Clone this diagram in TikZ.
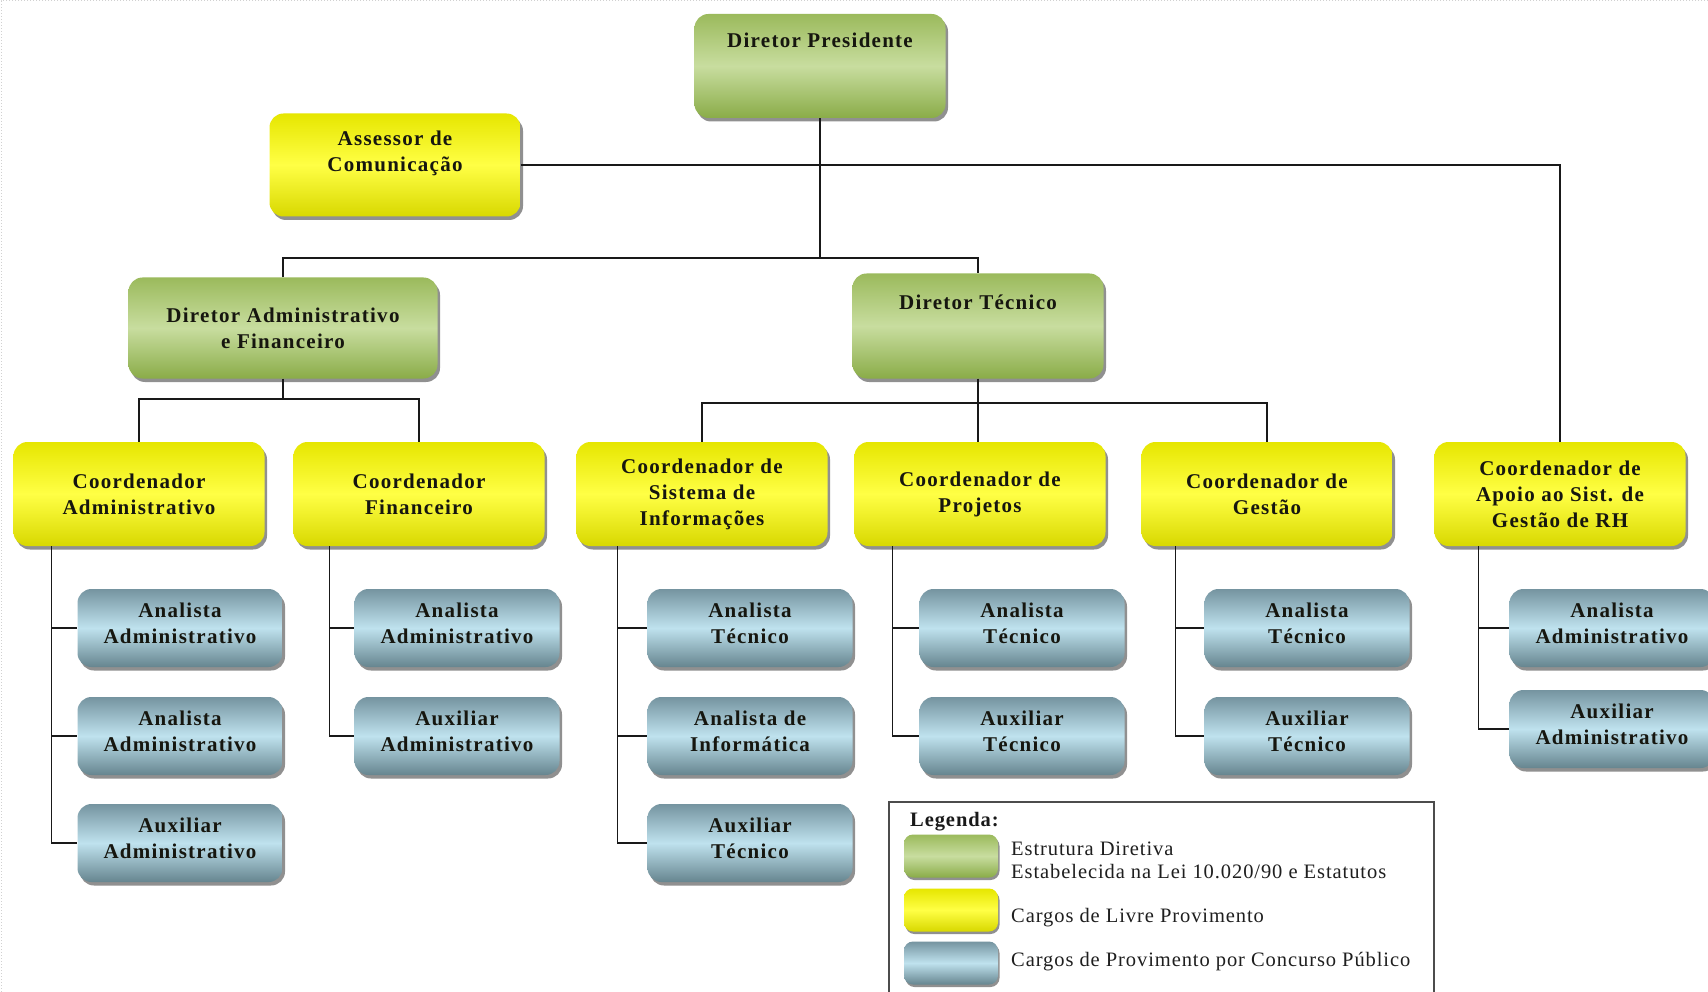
\documentclass[tikz,border=0pt]{standalone}
\usepackage{fontspec}
\setmainfont{Liberation Serif}
\newfontfamily\boxfont{Liberation Serif}[LetterSpace=6.0]
\newfontfamily\legfont{Liberation Serif}[LetterSpace=4.5]
\usetikzlibrary{shadows,calc}
\definecolor{gTop}{HTML}{9BBA5C}
\definecolor{gMid}{HTML}{C8DD9F}
\definecolor{gBot}{HTML}{8AAC48}
\definecolor{yTop}{HTML}{E6E600}
\definecolor{yMid}{HTML}{FFFF45}
\definecolor{yBot}{HTML}{D8D800}
\definecolor{bTop}{HTML}{7594A0}
\definecolor{bMid}{HTML}{BFE2EE}
\definecolor{bBot}{HTML}{66858F}
\definecolor{txt}{HTML}{16160F}
\tikzset{
  box/.style={rounded corners=14pt, inner sep=0pt, align=center,
    font=\boxfont\bfseries\fontsize{21}{26}\selectfont, text=txt,
    drop shadow={shadow xshift=2.5pt, shadow yshift=-3.5pt, fill=black!72, opacity=0.6}},
  boxtext/.style={anchor=center, inner sep=0pt, align=center,
    font=\boxfont\bfseries\fontsize{21}{26}\selectfont, text=txt},
  greenbox/.style={box, top color=gTop, bottom color=gBot, middle color=gMid},
  yellowbox/.style={box, top color=yTop, bottom color=yBot, middle color=yMid,
    minimum width=251pt, minimum height=104pt},
  bluebox/.style={box, top color=bTop, bottom color=bBot, middle color=bMid,
    minimum width=205pt, minimum height=78pt,
    label={[boxtext, yshift=4.5pt]center:#1}},
  toplabel/.style={anchor=north, yshift=-19pt, inner sep=0pt,
    font=\boxfont\bfseries\fontsize{21}{26}\selectfont, text=txt},
  conn/.style={line width=1.4pt, black!90},
  swatch/.style={rounded corners=9pt, minimum width=94pt, minimum height=43pt, inner sep=0pt,
    drop shadow={shadow xshift=1.5pt, shadow yshift=-2.5pt, fill=black!72, opacity=0.6}},
  legtext/.style={anchor=west, inner sep=0pt, font=\legfont\fontsize{20.5}{23}\selectfont, text=black!88}
}
\begin{document}
\begin{tikzpicture}[x=1pt,y=-1pt]
\useasboundingbox (0,0) rectangle (1708,992);
\fill[white] (0,0) rectangle (1708,992);
\draw[black!18, dotted, line width=1pt] (1708,1) -- (1,1) -- (1,992);

\coordinate (j1) at (820,258);
\coordinate (j2) at (283,399);
\coordinate (j3) at (978,403);

% top level
\node[greenbox, minimum width=251pt, minimum height=104pt,
  label={[toplabel]north:Diretor Presidente}] (pres) at (820,66) {};
\node[yellowbox, minimum height=103pt,
  label={[boxtext, yshift=12pt]center:Assessor de\\Comunicação}] (asse) at (395,165) {};
\node[greenbox, minimum width=309pt, minimum height=101pt] (dadm) at (283,328) {Diretor Administrativo\\e Financeiro};
\node[greenbox, minimum width=251pt, minimum height=105pt,
  label={[toplabel, yshift=-2pt]north:Diretor Técnico}] (dtec) at (978,326) {};

% coordinators
\node[yellowbox] (cadm) at (139,494) {Coordenador\\Administrativo};
\node[yellowbox] (cfin) at (419,494) {Coordenador\\Financeiro};
\node[yellowbox] (csi) at (702,494) {Coordenador de\\Sistema de\\Informações};
\node[yellowbox] (cpro) at (980,494) {Coordenador de\\Projetos};
\node[yellowbox] (cges) at (1267,494) {Coordenador de\\Gestão};
\node[yellowbox] (crh) at (1560,494) {Coordenador de\\Apoio ao Sist. de\\Gestão de RH};

% staff
\node[bluebox={Analista\\Administrativo}] (a11) at (180,628) {};
\node[bluebox={Analista\\Administrativo}] (a12) at (180,736) {};
\node[bluebox={Auxiliar\\Administrativo}] (a13) at (180,843) {};
\node[bluebox={Analista\\Administrativo}] (a21) at (457,628) {};
\node[bluebox={Auxiliar\\Administrativo}] (a22) at (457,736) {};
\node[bluebox={Analista\\Técnico}] (a31) at (750,628) {};
\node[bluebox={Analista de\\Informática}] (a32) at (750,736) {};
\node[bluebox={Auxiliar\\Técnico}] (a33) at (750,843) {};
\node[bluebox={Analista\\Técnico}] (a41) at (1022,628) {};
\node[bluebox={Auxiliar\\Técnico}] (a42) at (1022,736) {};
\node[bluebox={Analista\\Técnico}] (a51) at (1307,628) {};
\node[bluebox={Auxiliar\\Técnico}] (a52) at (1307,736) {};
\node[bluebox={Analista\\Administrativo}] (a61) at (1612,628) {};
\node[bluebox={Auxiliar\\Administrativo}] (a62) at (1612,729) {};

% connectors
\draw[conn] (pres.south) -- (j1);
\draw[conn] (dadm.north) |- (j1) -| (dtec.north);
\draw[conn] (asse.east) -| (crh.north);
\draw[conn] (dadm.south) -- (j2);
\draw[conn] (cadm.north) |- (j2) -| (cfin.north);
\draw[conn] (dtec.south) -- (j3);
\draw[conn] (csi.north) |- (j3) -| (cges.north);
\draw[conn] (j3) -- (j3 |- cpro.north);

\draw[conn] ([xshift=38pt]cadm.south west) |- (a13.west);
\draw[conn] ([xshift=38pt]cadm.south west |- a11.west) -- (a11.west);
\draw[conn] ([xshift=38pt]cadm.south west |- a12.west) -- (a12.west);
\draw[conn] ([xshift=36pt]cfin.south west) |- (a22.west);
\draw[conn] ([xshift=36pt]cfin.south west |- a21.west) -- (a21.west);
\draw[conn] ([xshift=41pt]csi.south west) |- (a33.west);
\draw[conn] ([xshift=41pt]csi.south west |- a31.west) -- (a31.west);
\draw[conn] ([xshift=41pt]csi.south west |- a32.west) -- (a32.west);
\draw[conn] ([xshift=38pt]cpro.south west) |- (a42.west);
\draw[conn] ([xshift=38pt]cpro.south west |- a41.west) -- (a41.west);
\draw[conn] ([xshift=34pt]cges.south west) |- (a52.west);
\draw[conn] ([xshift=34pt]cges.south west |- a51.west) -- (a51.west);
\draw[conn] ([xshift=44pt]crh.south west) |- (a62.west);
\draw[conn] ([xshift=44pt]crh.south west |- a61.west) -- (a61.west);

% legend
\draw[line width=1.2pt, black!70] (889,1000) -- (889,802) -- (1434,802) -- (1434,1000);
\node[anchor=west, inner sep=0pt, font=\legfont\bfseries\fontsize{20.5}{23}\selectfont, text=black!90] (legt) at (910,822) {Legenda:};
\node[swatch, top color=gTop, bottom color=gBot, middle color=gMid] (sw1) at (951,856) {};
\node[swatch, top color=yTop, bottom color=yBot, middle color=yMid] (sw2) at (951,910) {};
\node[swatch, top color=bTop, bottom color=bBot, middle color=bMid] (sw3) at (951,963) {};
\node[legtext] (l1a) at (1011,849) {Estrutura Diretiva};
\node[legtext] (l1b) at (1011,872) {Estabelecida na Lei 10.020/90 e Estatutos};
\node[legtext] (l2) at (1011,918) {Cargos de Livre Provimento};
\node[legtext] (l3) at (1011,962) {Cargos de Provimento por Concurso Público};
\end{tikzpicture}
\end{document}
